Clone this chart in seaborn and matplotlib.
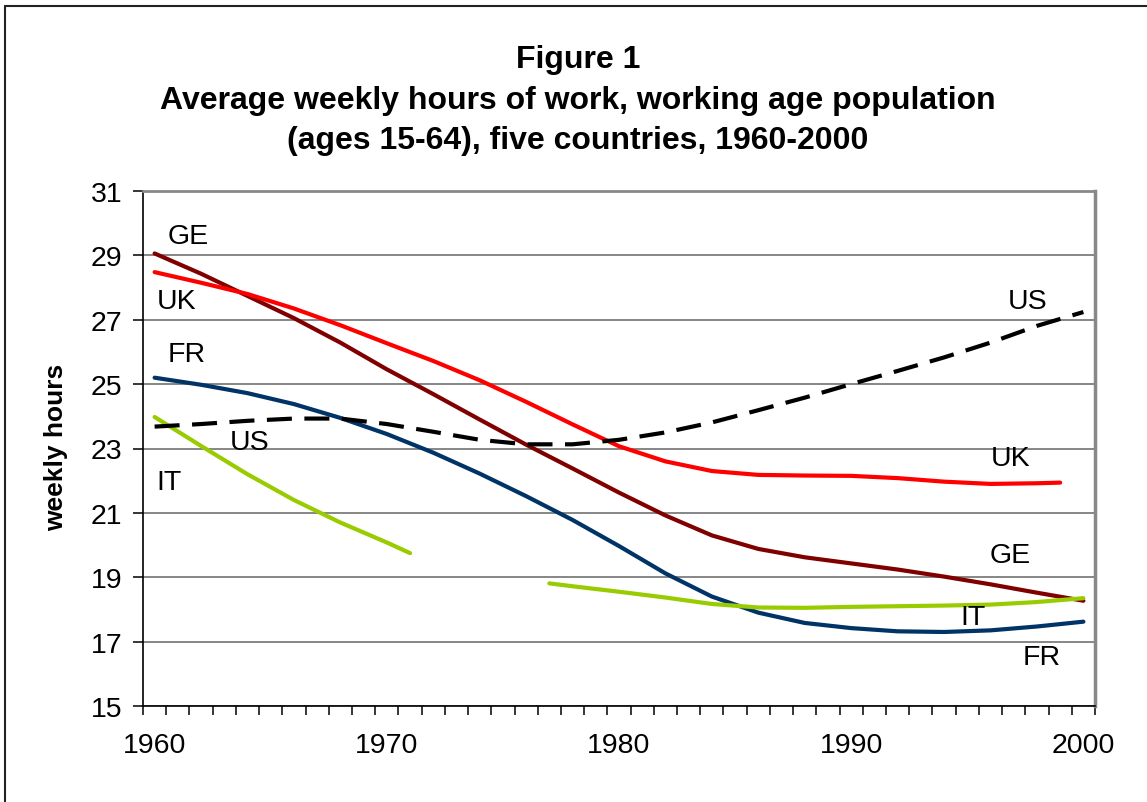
import numpy as np
import pandas as pd
import seaborn as sns
import matplotlib.pyplot as plt
from matplotlib.lines import Line2D

# values (weekly hours)
years = list(range(1960, 2001, 2))
ge_hours = [29.06, 28.43, 27.74, 27.05, 26.29, 25.46, 24.69, 23.9, 23.12, 22.38, 21.63,
            20.92, 20.3, 19.88, 19.62, 19.43, 19.24, 19.02, 18.78, 18.52, 18.27]
fr_hours = [25.2, 24.98, 24.72, 24.38, 23.95, 23.45, 22.87, 22.22, 21.52, 20.78, 19.97,
            19.12, 18.4, 17.9, 17.58, 17.42, 17.32, 17.3, 17.35, 17.47, 17.62]
us_hours = [23.68, 23.76, 23.86, 23.93, 23.93, 23.76, 23.52, 23.27, 23.13, 23.13, 23.27,
            23.5, 23.81, 24.19, 24.58, 25.0, 25.41, 25.83, 26.29, 26.81, 27.24]
uk_years = list(range(1960, 1999, 2)) + [1999]
uk_hours = [28.48, 28.15, 27.8, 27.35, 26.83, 26.27, 25.72, 25.12, 24.45, 23.75, 23.07,
            22.6, 22.3, 22.18, 22.16, 22.15, 22.08, 21.97, 21.9, 21.92, 21.94]
it_years_early = [1960, 1962, 1964, 1966, 1968, 1970, 1971]
it_hours_early = [23.98, 23.08, 22.2, 21.4, 20.7, 20.08, 19.75]
it_years_late = [1977, 1978, 1980, 1982, 1984, 1986, 1988, 1990, 1992, 1994, 1996, 1998, 2000]
it_hours_late = [18.81, 18.72, 18.55, 18.37, 18.17, 18.06, 18.05, 18.08, 18.1, 18.12, 18.15, 18.23, 18.35]

# series labels written inside the plot: (text, year, hours)
labels = [("GE", 1961.45, 29.6), ("UK", 1960.95, 27.57), ("FR", 1961.4, 25.93),
          ("US", 1964.1, 23.2), ("IT", 1960.6, 21.95),
          ("US", 1997.6, 27.57), ("UK", 1996.85, 22.7), ("GE", 1996.85, 19.68),
          ("IT", 1995.25, 17.76), ("FR", 1998.2, 16.53)]

sns.set_style("white")
plt.rcParams['font.family'] = ['Liberation Sans', 'DejaVu Sans']
plt.rcParams['text.color'] = 'black'
plt.rcParams['xtick.color'] = 'black'
plt.rcParams['ytick.color'] = 'black'
plt.rcParams['axes.labelcolor'] = 'black'

W, H = 1147, 803
fig = plt.figure(figsize=(W / 100, H / 100), dpi=100)
ax = fig.add_axes([143 / W, 1 - 707 / H, (1095 - 143) / W, (707 - 192) / H])

lw = 3.0
series = [
    (years, ge_hours, "#800000"),
    (uk_years, uk_hours, "#FF0000"),
    (years, fr_hours, "#003366"),
    (it_years_early, it_hours_early, "#99CC00"),
    (it_years_late, it_hours_late, "#99CC00"),
]
for xs, ys, col in series:
    df = pd.DataFrame({"year": xs, "hours": ys})
    sns.lineplot(data=df, x="year", y="hours", ax=ax, color=col, lw=lw,
                 sort=False, estimator=None, solid_capstyle="round",
                 solid_joinstyle="round")

us_df = pd.DataFrame({"year": years, "hours": us_hours})
sns.lineplot(data=us_df, x="year", y="hours", ax=ax, color="black", lw=lw,
             sort=False, estimator=None)
ax.lines[-1].set_dashes((6, 3))
ax.lines[-1].set_dash_capstyle("butt")

for txt, x, y in labels:
    ax.text(x, y, txt, fontsize=20.5, ha="center", va="center", color="black")

# axes
ax.set_xlim(1959.5, 2000.5)
ax.set_ylim(15, 31)
ax.set_yticks(range(15, 32, 2))
ax.set_xticks(range(1960, 2001, 10))
ax.set_xticks(np.arange(1959.5, 2001, 1), minor=True)
ax.tick_params(axis="x", which="major", length=0, pad=19, labelsize=20.5)
ax.tick_params(axis="x", which="minor", length=6.5, width=1.1, direction="out",
               color="black", bottom=True)
ax.tick_params(axis="y", which="major", length=7, width=1.1, direction="out",
               pad=8, labelsize=20.5, color="black", left=True)
ax.set_xlabel("")
ax.set_ylabel("")
ax.grid(axis="y", color="#666666", lw=1.1)
ax.grid(axis="x", visible=False)
ax.set_axisbelow(True)

ax.spines["left"].set_color("black")
ax.spines["left"].set_linewidth(1.2)
ax.spines["bottom"].set_color("black")
ax.spines["bottom"].set_linewidth(1.2)
ax.spines["top"].set_color("#888888")
ax.spines["top"].set_linewidth(2)
ax.spines["right"].set_color("#888888")
ax.spines["right"].set_linewidth(2.5)

# titles
tx = 0.504
fig.text(tx, 1 - 60 / H, "Figure 1", fontsize=23, fontweight="bold", ha="center", va="center")
fig.text(tx, 1 - 101 / H, "Average weekly hours of work, working age population",
         fontsize=23, fontweight="bold", ha="center", va="center")
fig.text(tx, 1 - 141 / H, "(ages 15-64), five countries, 1960-2000",
         fontsize=23, fontweight="bold", ha="center", va="center")
fig.text(56 / W, 1 - 447 / H, "weekly hours", fontsize=19, fontweight="bold",
         rotation=90, ha="center", va="center")

# outer chart border (top and left visible)
fig.add_artist(Line2D([5 / W, 5 / W], [0, 1 - 7 / H], color="#222222", lw=1.5))
fig.add_artist(Line2D([5 / W, 1], [1 - 7 / H, 1 - 7 / H], color="#222222", lw=1.5))

fig.savefig("out.png", dpi=100)
